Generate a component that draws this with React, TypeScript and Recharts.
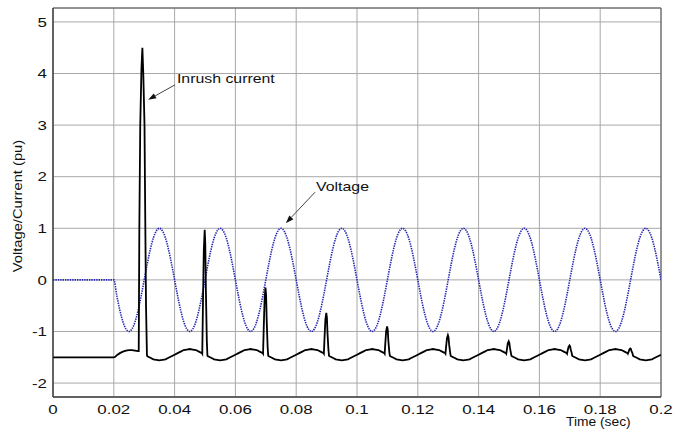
import React from "react";
import {
  LineChart,
  Line,
  XAxis,
  YAxis,
  CartesianGrid,
  ReferenceArea,
  ReferenceLine,
} from "recharts";

const FONT = '"Liberation Sans", Arial, Helvetica, sans-serif';

const xTicks = [0, 0.02, 0.04, 0.06, 0.08, 0.1, 0.12, 0.14, 0.16, 0.18, 0.2];
const yTicks = [-2, -1, 0, 1, 2, 3, 4, 5];
const xDomain = [0, 0.2];
const yDomain = [-2.27, 5.27];

// voltage (pu), one sample per ms from t = 0
const voltageStep = 0.001;
const voltageValues = [
  0, 0, 0, 0, 0, 0, 0, 0, 0, 0, 0, 0, 0, 0, 0, 0, 0, 0, 0, 0,
  0, -0.31, -0.59, -0.81, -0.95, -1, -0.95, -0.81, -0.59, -0.31, 0, 0.31, 0.59, 0.81, 0.95, 1, 0.95, 0.81, 0.59, 0.31,
  0, -0.31, -0.59, -0.81, -0.95, -1, -0.95, -0.81, -0.59, -0.31, 0, 0.31, 0.59, 0.81, 0.95, 1, 0.95, 0.81, 0.59, 0.31,
  0, -0.31, -0.59, -0.81, -0.95, -1, -0.95, -0.81, -0.59, -0.31, 0, 0.31, 0.59, 0.81, 0.95, 1, 0.95, 0.81, 0.59, 0.31,
  0, -0.31, -0.59, -0.81, -0.95, -1, -0.95, -0.81, -0.59, -0.31, 0, 0.31, 0.59, 0.81, 0.95, 1, 0.95, 0.81, 0.59, 0.31,
  0, -0.31, -0.59, -0.81, -0.95, -1, -0.95, -0.81, -0.59, -0.31, 0, 0.31, 0.59, 0.81, 0.95, 1, 0.95, 0.81, 0.59, 0.31,
  0, -0.31, -0.59, -0.81, -0.95, -1, -0.95, -0.81, -0.59, -0.31, 0, 0.31, 0.59, 0.81, 0.95, 1, 0.95, 0.81, 0.59, 0.31,
  0, -0.31, -0.59, -0.81, -0.95, -1, -0.95, -0.81, -0.59, -0.31, 0, 0.31, 0.59, 0.81, 0.95, 1, 0.95, 0.81, 0.59, 0.31,
  0, -0.31, -0.59, -0.81, -0.95, -1, -0.95, -0.81, -0.59, -0.31, 0, 0.31, 0.59, 0.81, 0.95, 1, 0.95, 0.81, 0.59, 0.31,
  0, -0.31, -0.59, -0.81, -0.95, -1, -0.95, -0.81, -0.59, -0.31, 0, 0.31, 0.59, 0.81, 0.95, 1, 0.95, 0.81, 0.59, 0.31,
  0,
];

// current (pu) as [time, value]
const currentStartup: [number, number][] = [
  [0, -1.5], [0.02, -1.5], [0.0205, -1.49], [0.021, -1.46], [0.022, -1.42], [0.023, -1.39],
  [0.024, -1.37], [0.025, -1.36], [0.026, -1.36], [0.027, -1.37], [0.028, -1.38],
];

const inrushPeak: [number, number][] = [
  [0.0282, -1.38], [0.0284, 1.0], [0.0287, 3.0], [0.0291, 4.1], [0.0294, 4.5],
  [0.0297, 4.0], [0.0301, 3.0], [0.0303, 1.5], [0.0306, -0.5], [0.0309, -1.45],
];

const currentRipple: [number, number][] = [
  [0.031, -1.48], [0.032, -1.51], [0.033, -1.54], [0.034, -1.55], [0.035, -1.56], [0.036, -1.55], [0.037, -1.54], [0.038, -1.51], [0.039, -1.48], [0.04, -1.45],
  [0.041, -1.42], [0.042, -1.39], [0.043, -1.36], [0.044, -1.35], [0.045, -1.34], [0.046, -1.35], [0.047, -1.36], [0.048, -1.39], [0.049, -1.42],
  [0.0491, -1.43], [0.0493, -0.59], [0.0496, 0.56], [0.0499, 0.97], [0.0501, 0.68], [0.0503, -0.23], [0.0506, -1.19], [0.0508, -1.47],
  [0.051, -1.48], [0.052, -1.51], [0.053, -1.54], [0.054, -1.55], [0.055, -1.56], [0.056, -1.55], [0.057, -1.54], [0.058, -1.51], [0.059, -1.48], [0.06, -1.45],
  [0.061, -1.42], [0.062, -1.39], [0.063, -1.36], [0.064, -1.35], [0.065, -1.34], [0.066, -1.35], [0.067, -1.36], [0.068, -1.39], [0.069, -1.42],
  [0.0691, -1.43], [0.0693, -0.98], [0.0696, -0.37], [0.0699, -0.15], [0.0701, -0.3], [0.0703, -0.79], [0.0706, -1.3], [0.0708, -1.47],
  [0.071, -1.48], [0.072, -1.51], [0.073, -1.54], [0.074, -1.55], [0.075, -1.56], [0.076, -1.55], [0.077, -1.54], [0.078, -1.51], [0.079, -1.48], [0.08, -1.45],
  [0.081, -1.42], [0.082, -1.39], [0.083, -1.36], [0.084, -1.35], [0.085, -1.34], [0.086, -1.35], [0.087, -1.36], [0.088, -1.39], [0.089, -1.42],
  [0.0891, -1.43], [0.0893, -1.15], [0.0896, -0.77], [0.0899, -0.64], [0.0901, -0.73], [0.0903, -1.04], [0.0906, -1.35], [0.0908, -1.47],
  [0.091, -1.48], [0.092, -1.51], [0.093, -1.54], [0.094, -1.55], [0.095, -1.56], [0.096, -1.55], [0.097, -1.54], [0.098, -1.51], [0.099, -1.48], [0.1, -1.45],
  [0.101, -1.42], [0.102, -1.39], [0.103, -1.36], [0.104, -1.35], [0.105, -1.34], [0.106, -1.35], [0.107, -1.36], [0.108, -1.39], [0.109, -1.42],
  [0.1091, -1.43], [0.1093, -1.24], [0.1096, -0.99], [0.1099, -0.9], [0.1101, -0.96], [0.1103, -1.17], [0.1106, -1.38], [0.1108, -1.47],
  [0.111, -1.48], [0.112, -1.51], [0.113, -1.54], [0.114, -1.55], [0.115, -1.56], [0.116, -1.55], [0.117, -1.54], [0.118, -1.51], [0.119, -1.48], [0.12, -1.45],
  [0.121, -1.42], [0.122, -1.39], [0.123, -1.36], [0.124, -1.35], [0.125, -1.34], [0.126, -1.35], [0.127, -1.36], [0.128, -1.39], [0.129, -1.42],
  [0.1291, -1.43], [0.1293, -1.3], [0.1296, -1.13], [0.1299, -1.07], [0.1301, -1.11], [0.1303, -1.25], [0.1306, -1.39], [0.1308, -1.47],
  [0.131, -1.48], [0.132, -1.51], [0.133, -1.54], [0.134, -1.55], [0.135, -1.56], [0.136, -1.55], [0.137, -1.54], [0.138, -1.51], [0.139, -1.48], [0.14, -1.45],
  [0.141, -1.42], [0.142, -1.39], [0.143, -1.36], [0.144, -1.35], [0.145, -1.34], [0.146, -1.35], [0.147, -1.36], [0.148, -1.39], [0.149, -1.42],
  [0.1491, -1.43], [0.1493, -1.35], [0.1496, -1.23], [0.1499, -1.19], [0.1501, -1.22], [0.1503, -1.31], [0.1506, -1.41], [0.1508, -1.47],
  [0.151, -1.48], [0.152, -1.51], [0.153, -1.54], [0.154, -1.55], [0.155, -1.56], [0.156, -1.55], [0.157, -1.54], [0.158, -1.51], [0.159, -1.48], [0.16, -1.45],
  [0.161, -1.42], [0.162, -1.39], [0.163, -1.36], [0.164, -1.35], [0.165, -1.34], [0.166, -1.35], [0.167, -1.36], [0.168, -1.39], [0.169, -1.42],
  [0.1691, -1.43], [0.1693, -1.37], [0.1696, -1.3], [0.1699, -1.27], [0.1701, -1.29], [0.1703, -1.35], [0.1706, -1.41], [0.1708, -1.47],
  [0.171, -1.48], [0.172, -1.51], [0.173, -1.54], [0.174, -1.55], [0.175, -1.56], [0.176, -1.55], [0.177, -1.54], [0.178, -1.51], [0.179, -1.48], [0.18, -1.45],
  [0.181, -1.42], [0.182, -1.39], [0.183, -1.36], [0.184, -1.35], [0.185, -1.34], [0.186, -1.35], [0.187, -1.36], [0.188, -1.39], [0.189, -1.42],
  [0.1891, -1.43], [0.1893, -1.4], [0.1896, -1.35], [0.1899, -1.33], [0.1901, -1.34], [0.1903, -1.38], [0.1906, -1.42], [0.1908, -1.47],
  [0.191, -1.48], [0.192, -1.51], [0.193, -1.54], [0.194, -1.55], [0.195, -1.56], [0.196, -1.55], [0.197, -1.54], [0.198, -1.51], [0.199, -1.48], [0.2, -1.45],
];

const voltageData = voltageValues.map((v, k) => ({ t: Number((k * voltageStep).toFixed(4)), v }));
const currentData = [...currentStartup, ...inrushPeak, ...currentRipple].map(([t, i]) => ({ t, i }));

const fmtTick = (v: number) => String(Number(v.toFixed(2)));

const XTick = (props: any) => {
  const { x, y, payload } = props;
  return (
    <text
      transform={`translate(${x},${y + 17}) scale(1.3,1)`}
      textAnchor="middle"
      fontSize={13}
      fontFamily={FONT}
      fill="#111"
    >
      {fmtTick(payload.value)}
    </text>
  );
};

const YTick = (props: any) => {
  const { x, y, payload } = props;
  return (
    <text
      transform={`translate(${x - 6},${y}) scale(1.3,1)`}
      textAnchor="end"
      dy="0.36em"
      fontSize={13}
      fontFamily={FONT}
      fill="#111"
    >
      {fmtTick(payload.value)}
    </text>
  );
};

// annotation: arrow from text anchor (x1,y1) to tip (x2,y2)
const arrowNote = (text: string, dx: number, dy: number) => (props: any) => {
  const { x1, y1, x2, y2 } = props;
  const ang = Math.atan2(y2 - y1, x2 - x1);
  const len = 8;
  const half = 2.8;
  const bx = x2 - len * Math.cos(ang);
  const by = y2 - len * Math.sin(ang);
  const px = -Math.sin(ang) * half;
  const py = Math.cos(ang) * half;
  return (
    <g>
      <line x1={x1} y1={y1} x2={bx} y2={by} stroke="#444" strokeWidth={1} />
      <polygon points={`${x2},${y2} ${bx + px},${by + py} ${bx - px},${by - py}`} fill="#111" />
      <text
        transform={`translate(${x1 + dx},${y1 + dy}) scale(1.22,1)`}
        fontSize={13}
        fontFamily={FONT}
        fill="#111"
      >
        {text}
      </text>
    </g>
  );
};

export default function App() {
  return (
    <div style={{ position: "absolute", left: 0, top: 0, width: 674, height: 429, background: "#fff" }}>
      <LineChart width={674} height={429} margin={{ top: 8, right: 13, bottom: 2, left: 0 }}>
        <CartesianGrid stroke="#a8a8a8" strokeWidth={1} />
        <XAxis
          dataKey="t"
          type="number"
          domain={xDomain}
          ticks={xTicks}
          allowDataOverflow
          height={30}
          tickLine={false}
          tickSize={0}
          tickMargin={0}
          axisLine={{ stroke: "#333" }}
          tick={<XTick />}
        />
        <YAxis
          type="number"
          domain={yDomain}
          ticks={yTicks}
          allowDataOverflow
          width={53}
          tickLine={false}
          tickSize={0}
          tickMargin={0}
          axisLine={{ stroke: "#333" }}
          tick={<YTick />}
        />
        <ReferenceArea
          x1={xDomain[0]}
          x2={xDomain[1]}
          y1={yDomain[0]}
          y2={yDomain[1]}
          fill="none"
          fillOpacity={0}
          stroke="#555"
          ifOverflow="visible"
        />
        <Line
          data={voltageData}
          dataKey="v"
          type="monotone"
          stroke="#2424b4"
          strokeWidth={1.6}
          strokeDasharray="1.4 1"
          dot={false}
          isAnimationActive={false}
        />
        <Line
          data={currentData}
          dataKey="i"
          type="linear"
          stroke="#000"
          strokeWidth={1.8}
          dot={false}
          isAnimationActive={false}
        />
        <ReferenceLine
          segment={[{ x: 0.0401, y: 3.78 }, { x: 0.0313, y: 3.49 }]}
          shape={arrowNote("Inrush current", 2, -2)}
          ifOverflow="visible"
        />
        <ReferenceLine
          segment={[{ x: 0.0862, y: 1.7 }, { x: 0.0766, y: 1.1 }]}
          shape={arrowNote("Voltage", 1, -1.5)}
          ifOverflow="visible"
        />
      </LineChart>
      <div
        style={{
          position: "absolute",
          left: 17,
          top: 206,
          transform: "translate(-50%, -50%) rotate(-90deg) scaleX(1.13)",
          whiteSpace: "nowrap",
          fontFamily: FONT,
          fontSize: 13,
          color: "#111",
          lineHeight: 1,
        }}
      >
        Voltage/Current (pu)
      </div>
      <div
        style={{
          position: "absolute",
          left: 566,
          top: 416,
          transform: "scaleX(1.15)",
          transformOrigin: "left top",
          whiteSpace: "nowrap",
          fontFamily: FONT,
          fontSize: 12,
          color: "#111",
          lineHeight: 1,
        }}
      >
        Time (sec)
      </div>
    </div>
  );
}
